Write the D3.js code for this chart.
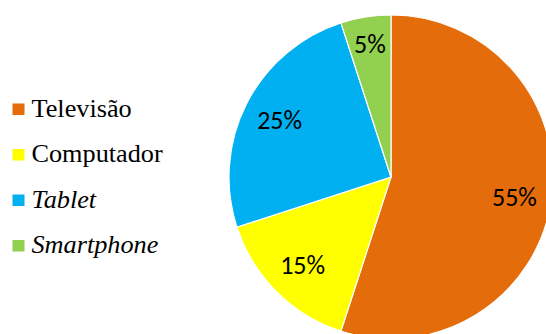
<!DOCTYPE html>
<html>
<head>
<meta charset="utf-8">
<script src="https://cdn.jsdelivr.net/npm/d3@7"></script>
<style>
  html, body { margin: 0; padding: 0; background: #fff; }
  svg { display: block; }
  .legend-text { font-family: "Liberation Serif", "Times New Roman", serif; font-size: 25px; }
  .pct { font-family: Carlito, Lato, "Open Sans", sans-serif; font-size: 26px; }
</style>
</head>
<body>
<svg id="chart" width="546" height="334"></svg>
<script>
// Device share data
const categories = ["Televisão", "Computador", "Tablet", "Smartphone"];
const values = [55, 15, 25, 5];
const labels = ["55%", "15%", "25%", "5%"];
const colors = ["#E46C0A", "#FFFF00", "#00B0F0", "#92D050"];
const italicNames = ["Tablet", "Smartphone"];

const svg = d3.select("#chart");

const cx = 391, cy = 177, radius = 162;
const total = d3.sum(values);

const pie = d3.pie().sort(null).value(d => d)(values);
const arc = d3.arc().innerRadius(0).outerRadius(radius);
// thin slices get their label pushed further out
const labelRadius = d => (d.value / total < 0.1 ? 135 : 125);

const g = svg.append("g").attr("transform", `translate(${cx},${cy})`);

g.selectAll("path.slice")
  .data(pie)
  .join("path")
  .attr("class", "slice")
  .attr("d", arc)
  .attr("fill", (d, i) => colors[i])
  .attr("stroke", "#fff")
  .attr("stroke-width", 1.2);

g.selectAll("text.pct")
  .data(pie)
  .join("text")
  .attr("class", "pct")
  .attr("transform", d => {
    const r = labelRadius(d);
    return `translate(${d3.arc().innerRadius(r).outerRadius(r).centroid(d)})`;
  })
  .attr("text-anchor", "middle")
  .attr("dominant-baseline", "central")
  .attr("fill", "#000")
  .text((d, i) => labels[i]);

// Legend
const legend = svg.append("g").attr("transform", "translate(12.5,116.5)");
const rowGap = 45.5;
const item = legend.selectAll("g.item")
  .data(categories)
  .join("g")
  .attr("class", "item")
  .attr("transform", (d, i) => `translate(0,${i * rowGap})`);

item.append("rect")
  .attr("x", 0).attr("y", -13)
  .attr("width", 12).attr("height", 11.5)
  .attr("fill", (d, i) => colors[i]);

item.append("text")
  .attr("class", "legend-text")
  .attr("transform", "translate(19,0) scale(1.05,1)")
  .style("font-style", d => italicNames.includes(d) ? "italic" : "normal")
  .attr("fill", "#000")
  .text(d => d);
</script>
</body>
</html>
